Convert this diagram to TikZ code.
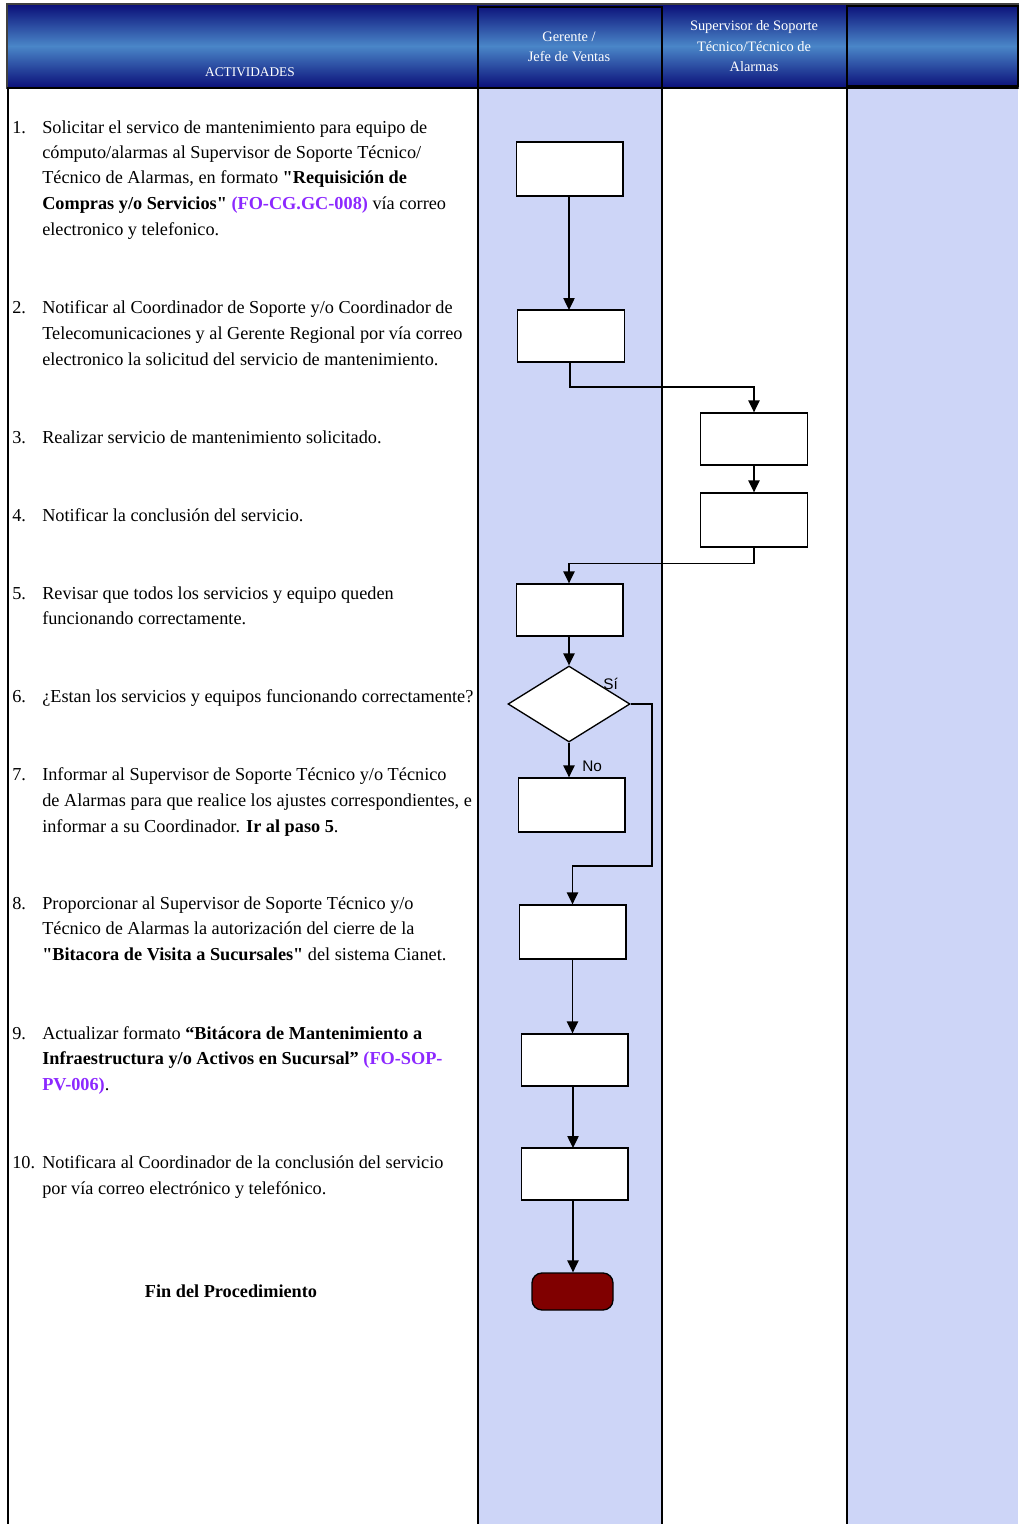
\documentclass[tikz,border=0pt]{standalone}
\usepackage{fontspec}
\setmainfont{Liberation Serif}
\newfontfamily\serifnl{Liberation Serif}
\newfontfamily\hsans{Liberation Sans}
\usetikzlibrary{arrows.meta,shapes.geometric}
\definecolor{lane}{RGB}{205,213,247}
\definecolor{hdark}{RGB}{10,14,120}
\definecolor{hlight}{RGB}{74,134,200}
\definecolor{linkp}{RGB}{140,40,255}
\definecolor{endred}{RGB}{128,0,0}
\newcommand{\lnk}[1]{\textcolor{linkp}{\textbf{#1}}}
\begin{document}
\begin{tikzpicture}[x=0.75pt,y=-0.75pt,
 box/.style={draw,fill=white,line width=1pt,minimum width=80pt,minimum height=40pt,inner sep=0pt},
 flow/.style={draw,line width=1pt,-{Triangle[length=9pt,width=8.5pt]}},
 stxt/.style={anchor=base west,inner sep=0pt,font=\serifnl\fontsize{13.7}{16}\selectfont},
 htxt/.style={text=white,font=\serifnl\fontsize{10.8}{12}\selectfont,inner sep=0pt},
 lbl/.style={font=\hsans\fontsize{11.5}{13}\selectfont,inner sep=0pt},
 lanefill/.style={fill=lane},
 rule/.style={line width=1pt}]
\useasboundingbox (0,0) rectangle (1018,1524);
% lanes
\fill[lanefill] (478,88) rectangle (662,1524);
\fill[lanefill] (847,88) rectangle (1018,1524);
\draw[rule] (8,88) -- (8,1524);
\draw[rule] (478,88) -- (478,1524);
\draw[rule] (662,88) -- (662,1524);
\draw[rule] (847,88) -- (847,1524);
% header
\shade[top color=hdark,bottom color=hdark,middle color=hlight] (7,4) rectangle (1018,88);
\draw[line width=1.2pt,black!75] (7,4) rectangle (1018,88);
\draw[line width=1.2pt] (478,7) rectangle (662,88);
\draw[line width=1.2pt] (847,6) rectangle (1018,86);
\draw[line width=2pt] (7,88) -- (1018,88);
\node[htxt,font=\serifnl\fontsize{10}{12}\selectfont] (hact) at (250,72) {ACTIVIDADES};
\node[htxt] (hg1) at (569,37) {Gerente /};
\node[htxt] (hg2) at (569,57) {Jefe de Ventas};
\node[htxt] (hs1) at (754,27) {Supervisor de Soporte};
\node[htxt] (hs2) at (754,47) {Técnico/Técnico de};
\node[htxt] (hs3) at (754,67) {Alarmas};
% texts
\begin{scope}
\clip (8,88) rectangle (478,1524);
\node[stxt] (n1) at (12,133) {1.};
\node[stxt] (t1a) at (42,133) {Solicitar el servico de mantenimiento para equipo de};
\node[stxt] (t1b) at (42,158) {cómputo/alarmas al Supervisor de Soporte Técnico/};
\node[stxt] (t1c) at (42,183) {Técnico de Alarmas, en formato \textbf{"Requisición de}};
\node[stxt] (t1d) at (42,209) {\textbf{Compras y/o Servicios"} \lnk{(FO-CG.GC-008)} vía correo};
\node[stxt] (t1e) at (42,235) {electronico y telefonico.};
\node[stxt] (n2) at (12,313) {2.};
\node[stxt] (t2a) at (42,313) {Notificar al Coordinador de Soporte y/o Coordinador de};
\node[stxt] (t2b) at (42,339) {Telecomunicaciones y al Gerente Regional por vía correo};
\node[stxt] (t2c) at (42,365) {electronico la solicitud del servicio de mantenimiento.};
\node[stxt] (n3) at (12,443) {3.};
\node[stxt] (t3a) at (42,443) {Realizar servicio de mantenimiento solicitado.};
\node[stxt] (n4) at (12,521) {4.};
\node[stxt] (t4a) at (42,521) {Notificar la conclusión del servicio.};
\node[stxt] (n5) at (12,599) {5.};
\node[stxt] (t5a) at (42,599) {Revisar que todos los servicios y equipo queden};
\node[stxt] (t5b) at (42,624) {funcionando correctamente.};
\node[stxt] (n6) at (12,702) {6.};
\node[stxt] (t6a) at (42,702) {¿Estan los servicios y equipos funcionando correctamente?};
\node[stxt] (n7) at (12,780) {7.};
\node[stxt] (t7a) at (42,780) {Informar al Supervisor de Soporte Técnico y/o Técnico};
\node[stxt] (t7b) at (42,806) {de Alarmas para que realice los ajustes correspondientes, e};
\node[stxt] (t7c) at (42,832) {informar a su Coordinador. \textbf{Ir al paso 5}.};
\node[stxt] (n8) at (12,909) {8.};
\node[stxt] (t8a) at (42,909) {Proporcionar al Supervisor de Soporte Técnico y/o};
\node[stxt] (t8b) at (42,934) {Técnico de Alarmas la autorización del cierre de la};
\node[stxt] (t8c) at (42,960) {\textbf{"Bitacora de Visita a Sucursales"} del sistema Cianet.};
\node[stxt] (n9) at (12,1039) {9.};
\node[stxt] (t9a) at (42,1039) {Actualizar formato \textbf{“Bitácora de Mantenimiento a}};
\node[stxt] (t9b) at (42,1064) {\textbf{Infraestructura y/o Activos en Sucursal”} \lnk{(FO-SOP-}};
\node[stxt] (t9c) at (42,1090) {\lnk{PV-006)}.};
\node[stxt] (n10) at (12,1168) {10.};
\node[stxt] (t10a) at (42,1168) {Notificara al Coordinador de la conclusión del servicio};
\node[stxt] (t10b) at (42,1194) {por vía correo electrónico y telefónico.};
\node[stxt,anchor=base] (fin) at (231,1297) {\textbf{Fin del Procedimiento}};
\end{scope}
% flow shapes
\node[box,minimum height=40.5pt] (b1) at (569.5,169) {};
\node[box,minimum height=39pt] (b2) at (571,336) {};
\node[box,minimum height=39pt] (b3) at (754,439) {};
\node[box,minimum height=40.5pt] (b4) at (754,520) {};
\node[box,minimum height=39pt] (b5) at (569.5,610) {};
\node[draw,fill=white,line width=1pt,shape=diamond,inner sep=0pt,minimum width=91.5pt,minimum height=57pt] (d) at (569,704) {};
\node[box,minimum height=40.5pt] (b7) at (571.5,805) {};
\node[box,minimum height=40.5pt] (b8) at (572.5,932) {};
\node[box,minimum height=39pt] (b9) at (574.5,1060) {};
\node[box,minimum height=39pt] (b10) at (574.5,1174) {};
\node[draw,fill=endred,line width=1pt,rounded corners=7.5pt,minimum width=60.75pt,minimum height=27.75pt,inner sep=0pt] (fin2) at (572.5,1291.5) {};
% connectors
\coordinate (j1) at (652,866);
\draw[flow] (b1.south -| 569,0) -- (569,310);
\draw[flow] (570,362) -- (570,387) -| (b3.north);
\draw[flow] (b3.south) -- (b4.north);
\draw[flow] (b4.south) -- ++(0,16) -| (b5.north -| 569,0) ;
\draw[flow] (b5.south -| d.north) -- (d.north);
\draw[flow] (d.south) -- (d.south |- b7.north);
\draw[flow] (d.east) -| (j1) -- (j1 -| b8.north) -- (b8.north);
\draw[flow] (b8.south) -- (b8.south |- b9.north);
\draw[flow] (573,1086) -- (573,1148);
\draw[flow] (573,1200) -- (fin2.north -| 573,0);
\node[lbl,anchor=base west] (si) at (603,689) {Sí};
\node[lbl,anchor=base west] (no) at (582,771) {No};
\end{tikzpicture}
\end{document}
